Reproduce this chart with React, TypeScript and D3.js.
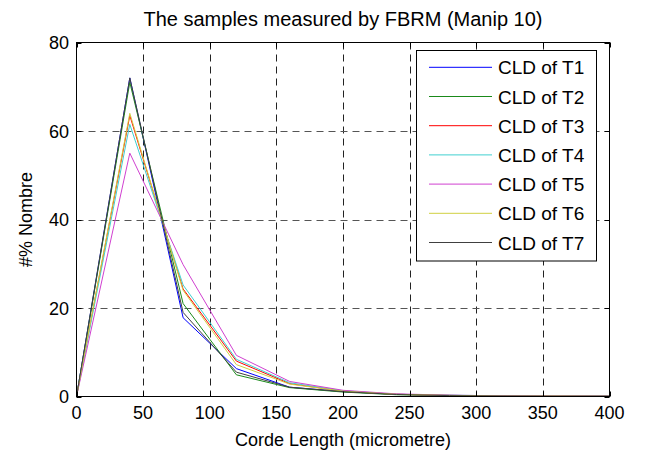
import React from "react";
import * as d3 from "d3";

const xValues = [0, 40, 80, 120, 160, 200, 240, 280, 320, 360, 400];
const seriesNames = ["CLD of T1", "CLD of T2", "CLD of T3", "CLD of T4", "CLD of T5", "CLD of T6", "CLD of T7"];
const t1 = [0, 72, 17.8, 6.3, 2.1, 1.1, 0.5, 0.25, 0.15, 0.1, 0.05];
const t2 = [0, 71, 21, 4.9, 2.0, 1.0, 0.4, 0.2, 0.1, 0.05, 0.05];
const t3 = [0, 63.5, 24.3, 8.0, 2.9, 1.2, 0.5, 0.25, 0.15, 0.1, 0.05];
const t4 = [0, 61.5, 25.2, 8.4, 3.1, 1.3, 0.5, 0.3, 0.15, 0.1, 0.05];
const t5 = [0, 55, 29.8, 9.3, 3.4, 1.4, 0.6, 0.3, 0.15, 0.1, 0.05];
const t6 = [0, 64, 24, 7.2, 2.8, 1.2, 0.5, 0.25, 0.1, 0.1, 0.05];
const t7 = [0, 72, 19, 5.5, 2.1, 1.1, 0.45, 0.2, 0.1, 0.05, 0.05];
const seriesValues = [t1, t2, t3, t4, t5, t6, t7];
const colors = ["#0000ff", "#1a8a1a", "#ff0000", "#40d0d0", "#d040d0", "#d0d040", "#404040"];
const xTicks = [0, 50, 100, 150, 200, 250, 300, 350, 400];
const yTicks = [0, 20, 40, 60, 80];

const W = 647, H = 456;
const L = 76.5, R = 609.5, T = 42.5, B = 396.5;
const FONT = "'Liberation Sans', Arial, Helvetica, sans-serif";

export default function App() {
  const x = d3.scaleLinear().domain([0, 400]).range([L, R]);
  const y = d3.scaleLinear().domain([0, 80]).range([B, T]);
  const line = d3.line<number>().x((_, i) => x(xValues[i])).y((d) => y(d));
  const legX0 = 416.5, legY0 = 50.5, legW = 180, legH = 210.5, rowH = 29.2;
  return (
    <svg width={W} height={H} style={{ position: "absolute", left: 0, top: 0, background: "#fff" }} fontFamily={FONT}>
      <rect x={0} y={0} width={W} height={H} fill="#fff" />
      {xTicks.slice(1, -1).map((t) => (
        <line key={"gx" + t} x1={Math.round(x(t)) + 0.5} x2={Math.round(x(t)) + 0.5} y1={T} y2={B} stroke="#222" strokeWidth={1} strokeDasharray="7,5" />
      ))}
      {yTicks.slice(1, -1).map((t) => (
        <line key={"gy" + t} x1={L} x2={R} y1={Math.round(y(t)) + 0.5} y2={Math.round(y(t)) + 0.5} stroke="#555" strokeWidth={1} strokeDasharray="7,5" />
      ))}
      {seriesValues.map((s, i) => (
        <path key={i} d={line(s) || ""} fill="none" stroke={colors[i]} strokeWidth={1} />
      ))}
      <rect x={L} y={T} width={R - L} height={B - T} fill="none" stroke="#000" strokeWidth={1} />
      {xTicks.map((t) => (
        <g key={"tx" + t}>
          <line x1={Math.round(x(t)) + 0.5} x2={Math.round(x(t)) + 0.5} y1={B} y2={B - 5} stroke="#000" />
          <line x1={Math.round(x(t)) + 0.5} x2={Math.round(x(t)) + 0.5} y1={T} y2={T + 5} stroke="#000" />
          <text x={x(t)} y={419} textAnchor="middle" fontSize={18} fill="#000">{t}</text>
        </g>
      ))}
      {yTicks.map((t) => (
        <g key={"ty" + t}>
          <line x1={L} x2={L + 5} y1={Math.round(y(t)) + 0.5} y2={Math.round(y(t)) + 0.5} stroke="#000" />
          <line x1={R} x2={R - 5} y1={Math.round(y(t)) + 0.5} y2={Math.round(y(t)) + 0.5} stroke="#000" />
          <text x={69} y={y(t) + 6.5} textAnchor="end" fontSize={18} fill="#000">{t}</text>
        </g>
      ))}
      <text x={(L + R) / 2} y={26} textAnchor="middle" fontSize={20} fill="#000">The samples measured by FBRM (Manip 10)</text>
      <text x={(L + R) / 2} y={446} textAnchor="middle" fontSize={18} fill="#000">Corde Length (micrometre)</text>
      <text transform={`translate(32,${(T + B) / 2}) rotate(-90)`} textAnchor="middle" fontSize={18} fill="#000">#% Nombre</text>
      <rect x={legX0} y={legY0} width={legW} height={legH} fill="#fff" stroke="#000" strokeWidth={1} />
      {seriesNames.map((n, i) => {
        const cy = 67.3 + i * rowH;
        return (
          <g key={n}>
            <line x1={429} x2={492} y1={cy} y2={cy} stroke={colors[i]} strokeWidth={1} />
            <text x={498} y={cy + 7} fontSize={19} fill="#000">{n}</text>
          </g>
        );
      })}
    </svg>
  );
}
